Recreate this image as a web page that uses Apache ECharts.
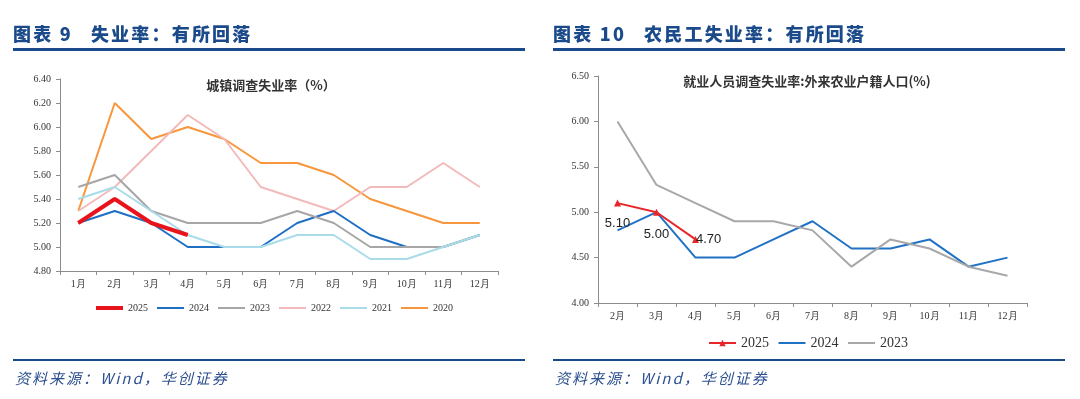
<!DOCTYPE html>
<html><head><meta charset="utf-8">
<script src="https://cdn.jsdelivr.net/npm/echarts@6/dist/echarts.min.js"></script>
<style>
html,body{margin:0;padding:0;background:#fff;}
#wrap{position:relative;width:1080px;height:399px;overflow:hidden;}
#chart{position:absolute;left:0;top:0;width:1080px;height:399px;}
.hdr{position:absolute;top:20px;font-family:"Noto Sans CJK SC";font-weight:900;font-size:18px;color:#1b4a8a;letter-spacing:2.2px;white-space:nowrap;}
.bar{position:absolute;height:2.5px;background:#1b4a8a;}
.src{position:absolute;top:367px;font-family:"Noto Sans CJK SC";font-style:italic;font-size:15px;color:#2d5090;letter-spacing:2px;white-space:nowrap;}
</style></head>
<body><div id="wrap">
<div id="chart"></div>
<div class="hdr" style="left:13px">图表 9<span style="display:inline-block;width:18px"></span>失业率：有所回落</div>
<div class="hdr" style="left:553px">图表 10<span style="display:inline-block;width:18px"></span>农民工失业率：有所回落</div>
<div class="bar" style="left:13px;width:512px;top:48px"></div>
<div class="bar" style="left:553px;width:512px;top:48px"></div>
<div class="bar" style="left:13px;width:512px;top:358.5px"></div>
<div class="bar" style="left:553px;width:512px;top:358.5px"></div>
<div class="src" style="left:15px">资料来源：Wind，华创证券</div>
<div class="src" style="left:555px">资料来源：Wind，华创证券</div>
</div>
<script>
// Left chart: urban surveyed unemployment rate
const monthsL = ['1月','2月','3月','4月','5月','6月','7月','8月','9月','10月','11月','12月'];
const u2025 = [5.2, 5.4, 5.2, 5.1];
const u2024 = [5.2, 5.3, 5.2, 5.0, 5.0, 5.0, 5.2, 5.3, 5.1, 5.0, 5.0, 5.1];
const u2023 = [5.5, 5.6, 5.3, 5.2, 5.2, 5.2, 5.3, 5.2, 5.0, 5.0, 5.0, 5.1];
const u2022 = [5.3, 5.5, 5.8, 6.1, 5.9, 5.5, 5.4, 5.3, 5.5, 5.5, 5.7, 5.5];
const u2021 = [5.4, 5.5, 5.3, 5.1, 5.0, 5.0, 5.1, 5.1, 4.9, 4.9, 5.0, 5.1];
const u2020 = [5.3, 6.2, 5.9, 6.0, 5.9, 5.7, 5.7, 5.6, 5.4, 5.3, 5.2, 5.2];
// Right chart: migrant agricultural-hukou workers
const monthsR = ['2月','3月','4月','5月','6月','7月','8月','9月','10月','11月','12月'];
const m2025 = [5.1, 5.0, 4.7];
const m2024 = [4.8, 5.0, 4.5, 4.5, 4.7, 4.9, 4.6, 4.6, 4.7, 4.4, 4.5];
const m2023 = [6.0, 5.3, 5.1, 4.9, 4.9, 4.8, 4.4, 4.7, 4.6, 4.4, 4.3];
const labelPos2025 = ['bottom','bottom','right'];
const labelDist2025 = [10, 12, -3];

const serif = 'Liberation Serif';
const axisCol = '#8c8c8c';
function xAx(idx, data){
  return {type:'category', gridIndex:idx, data:data, boundaryGap:true,
    axisLine:{lineStyle:{color:axisCol,width:1}},
    axisTick:{show:true,length:4,lineStyle:{color:axisCol}},
    axisLabel:{color:'#333',fontFamily:serif,fontSize:10,margin:8},
    splitLine:{show:false}};
}
function yAx(idx, min, max, iv){
  return {type:'value', gridIndex:idx, min:min, max:max, interval:iv,
    axisLine:{show:true,lineStyle:{color:axisCol,width:1}},
    axisTick:{show:true,length:4,lineStyle:{color:axisCol}},
    axisLabel:{color:'#333',fontFamily:serif,fontSize:10,margin:9,formatter:v=>v.toFixed(2)},
    splitLine:{show:false}};
}
function ln(name, data, color, width, xi){
  return {name:name,type:'line',data:data,xAxisIndex:xi,yAxisIndex:xi,symbol:'none',
    lineStyle:{color:color,width:width},itemStyle:{color:color},animation:false};
}
const hide = {itemStyle:{opacity:0}};
const chart = echarts.init(document.getElementById('chart'));
chart.setOption({
  animation:false,
  title:[
    {text:'城镇调查失业率（%）',left:266,top:74,textAlign:'center',
      textStyle:{fontFamily:'Noto Sans CJK SC',fontWeight:'bold',fontSize:13,color:'#333'}},
    {text:'就业人员调查失业率:外来农业户籍人口(%)',left:802,top:70,textAlign:'center',
      textStyle:{fontFamily:'Noto Sans CJK SC',fontWeight:'bold',fontSize:13,color:'#333'}}
  ],
  grid:[
    {left:60,top:79,width:438,height:192},
    {left:598,top:76,width:429,height:227}
  ],
  xAxis:[xAx(0,monthsL), xAx(1,monthsR)],
  yAxis:[yAx(0,4.8,6.4,0.2), yAx(1,4.0,6.5,0.5)],
  legend:[
    {data:['2025','2024','2023','2022','2021','2020'].map(n=>Object.assign({name:n},hide,
        n==='2025'?{lineStyle:{width:4}}:{})),
      left:89,top:298,itemWidth:27,itemHeight:10,itemGap:8,
      textStyle:{fontFamily:serif,fontSize:10,color:'#333'}},
    {data:[{name:'2025 '},Object.assign({name:'2024 '},hide),Object.assign({name:'2023 '},hide)],
      left:703,top:331,itemWidth:27,itemHeight:8,itemGap:5,
      textStyle:{fontFamily:serif,fontSize:14,color:'#333'}}
  ],
  series:[
    ln('2020',u2020,'#f7963c',2,0),
    ln('2022',u2022,'#f2baba',2,0),
    ln('2024',u2024,'#1f6fc5',2,0),
    ln('2023',u2023,'#a6a6a6',2,0),
    ln('2021',u2021,'#a9dbe9',2,0),
    ln('2025',u2025,'#e8141c',4,0),
    ln('2024 ',m2024,'#2172c4',2,1),
    ln('2023 ',m2023,'#a8a8a8',2,1),
    Object.assign(ln('2025 ',m2025,'#e8262a',2,1),{symbol:'triangle',symbolSize:7,showSymbol:true,
      label:{show:true,formatter:p=>p.value.toFixed(2),fontFamily:'Liberation Sans',fontSize:13,color:'#222'},
      data:m2025.map((v,i)=>({value:v,label:{position:labelPos2025[i],distance:labelDist2025[i]}}))})
  ]
});
</script>
</body></html>
